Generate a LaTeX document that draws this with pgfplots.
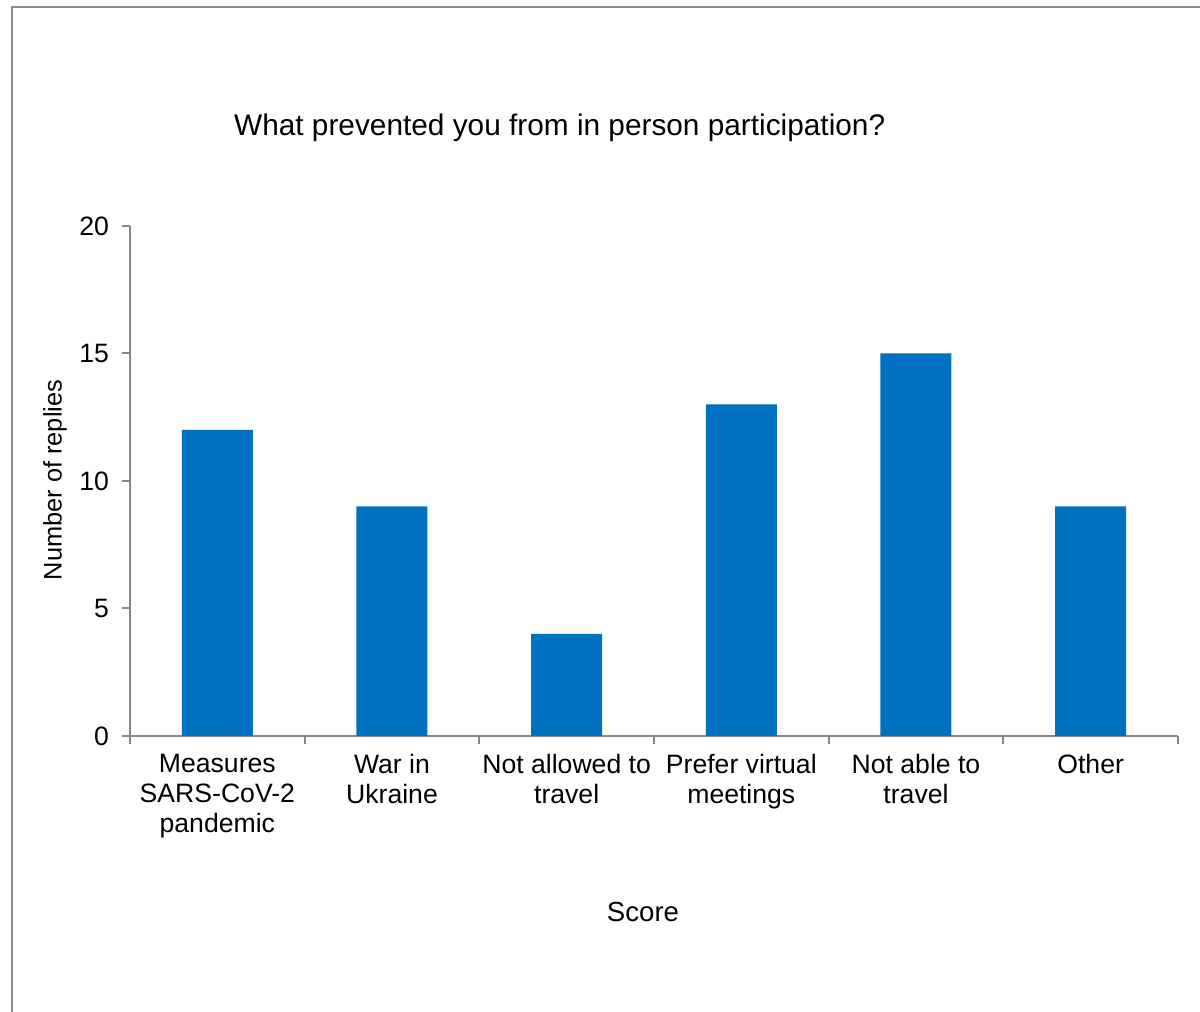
\documentclass[border=0pt]{standalone}
\usepackage{fontspec}
\setmainfont{Liberation Sans}
\usepackage{pgfplots}
\pgfplotsset{compat=1.18}
\definecolor{barblue}{HTML}{0070C0}
\definecolor{axgray}{HTML}{868686}
\definecolor{framegray}{HTML}{8C8C8C}
\begin{document}
\begin{tikzpicture}
\useasboundingbox (0pt,0pt) rectangle (600pt,506pt);
\draw[framegray, line width=1.2pt] (6pt,0pt) -- (6pt,502.5pt) -- (600pt,502.5pt);
\begin{axis}[
  at={(65pt,138pt)}, anchor=south west,
  scale only axis, width=524pt, height=255pt,
  xmin=-0.5, xmax=5.5, ymin=0, ymax=20,
  axis lines*=left,
  axis line style={axgray, line width=1pt},
  ytick={0,5,10,15,20},
  xtick={0,1,2,3,4,5},
  xticklabels={{Measures\\SARS-CoV-2\\pandemic},{War in\\Ukraine},{Not allowed to\\travel},{Prefer virtual\\meetings},{Not able to\\travel},{Other}},
  xticklabel style={align=center, font=\fontsize{13.3}{15}\selectfont, text=black, yshift=-1.5pt},
  yticklabel style={font=\fontsize{13.3}{15}\selectfont, text=black, xshift=-3pt},
  major x tick style={draw=none},
  minor xtick={-0.5,0.5,...,5.5},
  minor x tick style={axgray, line width=1pt},
  minor tick length=4pt,
  major tick length=4pt,
  y tick style={axgray, line width=1pt},
  tick align=outside,
  /pgf/number format/assume math mode=true,
  title={What prevented you from in person participation?},
  title style={at={(axis description cs:0.41,1.17)}, anchor=center, font=\fontsize{14.9}{17}\selectfont},
  xlabel={Score},
  xlabel style={at={(axis description cs:0.4895,-0.345)}, anchor=center, font=\fontsize{13.8}{15}\selectfont},
  ylabel={Number of replies},
  ylabel style={at={(axis description cs:-0.0716,0.502)}, anchor=center, font=\fontsize{12.7}{15}\selectfont},
  clip=false,
]
\addplot[ybar, bar width=35.5pt, fill=barblue, draw=none] coordinates {(0,12) (1,9) (2,4) (3,13) (4,15) (5,9)};
\end{axis}
\end{tikzpicture}
\end{document}
